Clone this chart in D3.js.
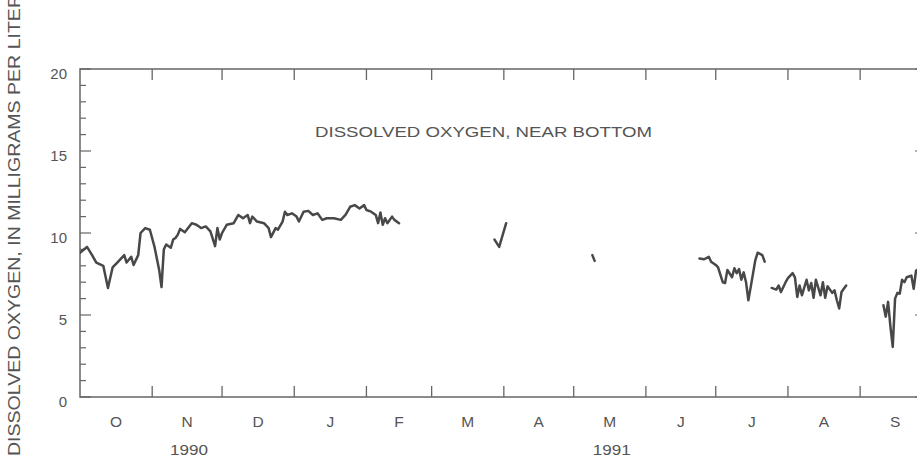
<!DOCTYPE html>
<html>
<head>
<meta charset="utf-8">
<script src="https://cdn.jsdelivr.net/npm/d3@7"></script>
<style>
  html, body { margin: 0; padding: 0; background: #fff; }
  svg { display: block; }
  text { font-family: "Liberation Sans", Arial, sans-serif; fill: #555555; }
</style>
</head>
<body>
<svg id="chart" width="917" height="457"></svg>
<script>
// ---- data ----
const dates = [
  "1990-10-01","1990-10-04","1990-10-06","1990-10-08","1990-10-11","1990-10-13","1990-10-15","1990-10-17",
  "1990-10-20","1990-10-21","1990-10-23","1990-10-24","1990-10-26","1990-10-27","1990-10-29","1990-10-31",
  "1990-11-02","1990-11-04","1990-11-05","1990-11-06","1990-11-07","1990-11-09","1990-11-10","1990-11-11",
  "1990-11-12","1990-11-13","1990-11-15","1990-11-18","1990-11-20","1990-11-22","1990-11-24","1990-11-26",
  "1990-11-28","1990-11-29","1990-11-30","1990-12-01","1990-12-03","1990-12-06","1990-12-08","1990-12-10",
  "1990-12-12","1990-12-13","1990-12-14","1990-12-16","1990-12-19","1990-12-21","1990-12-22","1990-12-24",
  "1990-12-25","1990-12-27","1990-12-28","1990-12-29","1990-12-31","1991-01-02","1991-01-03","1991-01-05",
  "1991-01-07","1991-01-09","1991-01-11","1991-01-13","1991-01-15","1991-01-18","1991-01-21","1991-01-23",
  "1991-01-25","1991-01-27","1991-01-29","1991-01-31","1991-02-01","1991-02-03","1991-02-05","1991-02-06",
  "1991-02-07","1991-02-08","1991-02-09","1991-02-10","1991-02-12","1991-02-13","1991-02-15",
  "1991-02-16",
  "1991-03-28","1991-03-30","1991-04-02",
  "1991-04-03",
  "1991-05-09","1991-05-10",
  "1991-05-11",
  "1991-06-24","1991-06-26","1991-06-28","1991-06-29","1991-07-01","1991-07-02","1991-07-03","1991-07-04",
  "1991-07-05","1991-07-06","1991-07-08","1991-07-09","1991-07-10","1991-07-11","1991-07-12","1991-07-13",
  "1991-07-14","1991-07-15","1991-07-16","1991-07-18","1991-07-19","1991-07-21","1991-07-22",
  "1991-07-23",
  "1991-07-25","1991-07-27","1991-07-28","1991-07-29","1991-07-31","1991-08-01","1991-08-03","1991-08-04",
  "1991-08-05","1991-08-06","1991-08-07","1991-08-09","1991-08-10","1991-08-11","1991-08-12","1991-08-13",
  "1991-08-15","1991-08-16","1991-08-17","1991-08-18","1991-08-20","1991-08-21","1991-08-22","1991-08-23",
  "1991-08-24","1991-08-26",
  "1991-08-27",
  "1991-09-11","1991-09-12","1991-09-13","1991-09-14","1991-09-15","1991-09-16","1991-09-17","1991-09-18",
  "1991-09-19","1991-09-20","1991-09-21","1991-09-22","1991-09-23","1991-09-24","1991-09-25","1991-09-26",
  "1991-09-28"
];
const oxygenValues = [
  8.8, 9.15, 8.7, 8.2, 8.0, 6.65, 7.9, 8.2,
  8.65, 8.2, 8.55, 8.05, 8.65, 10.0, 10.3, 10.2,
  9.15, 7.75, 6.7, 9.0, 9.3, 9.1, 9.6, 9.7,
  9.9, 10.25, 10.05, 10.6, 10.5, 10.3, 10.4, 10.1,
  9.2, 10.3, 9.6, 10.0, 10.5, 10.6, 11.1, 10.9,
  11.1, 10.6, 11.0, 10.7, 10.6, 10.3, 9.75, 10.3,
  10.2, 10.7, 11.3, 11.1, 11.2, 11.0, 10.7, 11.3,
  11.35, 11.1, 11.2, 10.8, 10.9, 10.9, 10.8, 11.1,
  11.6, 11.7, 11.5, 11.7, 11.4, 11.3, 11.1, 10.6,
  11.25, 10.5, 10.9, 10.6, 11.0, 10.8, 10.6,
  null,
  9.6, 9.15, 10.6,
  null,
  8.65, 8.3,
  null,
  8.45, 8.4, 8.55, 8.25, 8.05, 7.9, 7.45, 7.0,
  6.95, 7.75, 7.3, 7.85, 7.55, 7.8, 7.15, 7.6,
  7.0, 5.9, 6.7, 8.35, 8.8, 8.65, 8.25,
  null,
  6.65, 6.55, 6.8, 6.4, 7.0, 7.25, 7.55, 7.3,
  6.1, 6.8, 6.2, 7.15, 6.5, 6.95, 6.05, 7.15,
  6.2, 7.0, 6.05, 6.75, 6.35, 6.5, 5.9, 5.4,
  6.4, 6.8,
  null,
  5.6, 4.9, 5.8, 4.3, 3.05, 6.0, 6.35, 6.3,
  7.15, 7.0, 7.3, 7.35, 7.4, 6.6, 7.7, 7.8,
  8.0
];
const monthLabels = ["O","N","D","J","F","M","A","M","J","J","A","S"];
const yearLabels = [["1990", "1990-11-01"], ["1991", "1991-05-01"]];
const yTickValues = [0, 5, 10, 15, 20];
const chartTitle = "DISSOLVED OXYGEN, NEAR BOTTOM";
const yTitle = "DISSOLVED OXYGEN, IN MILLIGRAMS PER LITER";

// ---- layout ----
const svg = d3.select("#chart");
const mLeft = 80, mRight = 926, mTop = 69, mBottom = 397;
const parse = d3.utcParse("%Y-%m-%d");
const x = d3.scaleUtc()
  .domain([Date.UTC(1990, 9, 1), Date.UTC(1991, 9, 1)])
  .range([mLeft, 930]);
const y = d3.scaleLinear().domain([0, 20]).range([mBottom, mTop]);
const frameColor = "#666666";

const data = dates.map((d, i) => ({ date: parse(d), value: oxygenValues[i] }));

// clip
svg.append("defs").append("clipPath").attr("id", "plotclip")
  .append("rect").attr("x", mLeft).attr("y", mTop).attr("width", mRight - mLeft).attr("height", mBottom - mTop);

// frame
svg.append("rect")
  .attr("x", mLeft).attr("y", mTop).attr("width", mRight - mLeft).attr("height", mBottom - mTop)
  .attr("fill", "none").attr("stroke", frameColor).attr("stroke-width", 1.5);

// month boundary ticks (bottom, pointing up; top, pointing down)
const monthStarts = d3.utcMonth.range(new Date(Date.UTC(1990, 10, 1)), new Date(Date.UTC(1991, 9, 1)));
svg.append("g").selectAll("line").data(monthStarts).join("line")
  .attr("x1", d => x(d)).attr("x2", d => x(d))
  .attr("y1", mBottom).attr("y2", mBottom - 11)
  .attr("stroke", frameColor).attr("stroke-width", 1.3);
svg.append("g").selectAll("line").data(monthStarts).join("line")
  .attr("x1", d => x(d)).attr("x2", d => x(d))
  .attr("y1", mTop).attr("y2", mTop + 11)
  .attr("stroke", frameColor).attr("stroke-width", 1.3);

// y ticks: minor every 1, major every 5 (left and right, inward)
const yAll = d3.range(0, 21, 1);
svg.append("g").selectAll("line").data(yAll).join("line")
  .attr("x1", mLeft).attr("x2", d => mLeft + (d % 5 === 0 ? 11 : 6))
  .attr("y1", d => y(d)).attr("y2", d => y(d))
  .attr("stroke", frameColor).attr("stroke-width", 1.2);
svg.append("g").selectAll("line").data(yAll).join("line")
  .attr("x1", mRight).attr("x2", d => mRight - (d % 5 === 0 ? 11 : 6))
  .attr("y1", d => y(d)).attr("y2", d => y(d))
  .attr("stroke", frameColor).attr("stroke-width", 1.2);

// y tick labels
svg.append("g").selectAll("text").data(yTickValues).join("text")
  .attr("x", 67).attr("y", d => y(d) + 10)
  .attr("text-anchor", "end")
  .attr("font-size", 15)
  .text(d => d);

// month labels centered in month
const monthMids = d3.utcMonth.range(new Date(Date.UTC(1990, 9, 1)), new Date(Date.UTC(1991, 9, 1)))
  .map(d => new Date((+d + +d3.utcMonth.offset(d, 1)) / 2));
svg.append("g").selectAll("text").data(monthLabels).join("text")
  .attr("x", (d, i) => x(monthMids[i]))
  .attr("y", 427)
  .attr("text-anchor", "middle")
  .attr("font-size", 15.5)
  .text(d => d);

// year labels
svg.append("g").selectAll("text").data(yearLabels).join("text")
  .attr("x", d => {
    const m = parse(d[1]);
    return x(new Date((+m + +d3.utcMonth.offset(m, 1)) / 2)) + 2;
  })
  .attr("y", 455)
  .attr("text-anchor", "middle")
  .attr("font-size", 14)
  .attr("textLength", 38).attr("lengthAdjust", "spacingAndGlyphs")
  .text(d => d[0]);

// chart title
svg.append("text")
  .attr("x", 315).attr("y", 137)
  .attr("font-size", 15.5)
  .attr("textLength", 337).attr("lengthAdjust", "spacingAndGlyphs")
  .text(chartTitle);

// y-axis title
svg.append("text")
  .attr("transform", "translate(20,456) rotate(-90)")
  .attr("x", 0).attr("y", 0)
  .attr("font-size", 16.5)
  .attr("textLength", 462).attr("lengthAdjust", "spacingAndGlyphs")
  .text(yTitle);

// data line
const line = d3.line()
  .defined(d => d.value !== null)
  .x(d => x(d.date))
  .y(d => y(d.value))
  .curve(d3.curveLinear);
svg.append("path")
  .datum(data)
  .attr("clip-path", "url(#plotclip)")
  .attr("d", line)
  .attr("fill", "none")
  .attr("stroke", "#484848")
  .attr("stroke-width", 2.5)
  .attr("stroke-linejoin", "round")
  .attr("stroke-linecap", "round");
</script>
</body>
</html>
